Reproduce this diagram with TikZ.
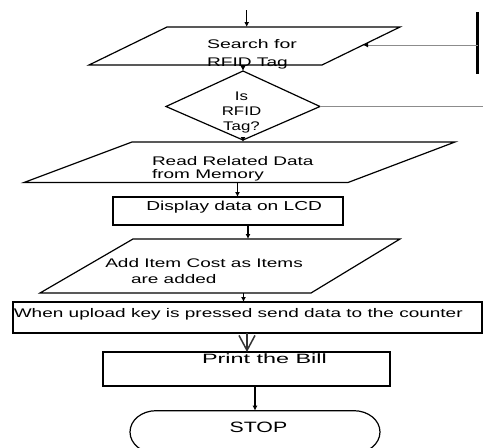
\documentclass[tikz,border=0pt]{standalone}
\usepackage{fontspec}
\setmainfont{Liberation Sans}
\usetikzlibrary{arrows.meta}
\begin{document}
\begin{tikzpicture}[x=1pt,y=-1pt,
  shapeline/.style={draw=black,line width=1.2pt,line join=miter},
  boxline/.style={draw=black,line width=1.7pt},
  flow/.style={draw=black,line width=1.1pt,-{Latex[length=5pt,width=5pt]}},
  vflow/.style={draw=black!80,line width=1.2pt,-{Straight Barb[length=15pt,width=16pt,line width=1.5pt]}},
  grayline/.style={draw=black!45,line width=1pt},
  lbl/.style={inner sep=0pt,anchor=base west,font=\fontsize{12.5}{14}\selectfont,xscale=1.52},
  clbl/.style={inner sep=0pt,anchor=base,font=\fontsize{12.5}{14}\selectfont,xscale=1.35},
]
\useasboundingbox (0,0) rectangle (483,448);
\clip (0,0) rectangle (483,448);

% ---------- coordinates ----------
\coordinate (in) at (246.7,10);
% parallelogram 1
\coordinate (p1tl) at (167,27);  \coordinate (p1tr) at (400,27);
\coordinate (p1br) at (322,65);  \coordinate (p1bl) at (89,65);
\coordinate (p1top) at (246.7,27); \coordinate (p1bot) at (243,65);
\coordinate (p1rt) at (363,45);
% bar at right
\coordinate (bart) at (477.5,12); \coordinate (barb) at (477.5,74);
\coordinate (barm) at (477.5,45);
% diamond
\coordinate (dt) at (243,71);  \coordinate (dr) at (320,106.5);
\coordinate (db) at (243,140); \coordinate (dl) at (166,106.5);
\coordinate (dout) at (483,106.5);
% parallelogram 2
\coordinate (p2tl) at (132,142); \coordinate (p2tr) at (455,142);
\coordinate (p2br) at (348,182.5); \coordinate (p2bl) at (24,182.5);
\coordinate (p2top) at (243,142); \coordinate (p2bot) at (237.5,182.5);
% rectangle display
\coordinate (r1nw) at (113,197); \coordinate (r1se) at (343,225);
\coordinate (r1top) at (237.5,197); \coordinate (r1bot) at (248,225);
% parallelogram 3
\coordinate (p3tl) at (133,239); \coordinate (p3tr) at (400,239);
\coordinate (p3br) at (311,293); \coordinate (p3bl) at (40,293);
\coordinate (p3top) at (248,239); \coordinate (p3bot) at (243.5,293);
% rectangle upload
\coordinate (r2nw) at (13,302); \coordinate (r2se) at (482,333);
\coordinate (r2top) at (243.5,302); \coordinate (r2bot) at (247,333);
% rectangle print
\coordinate (r3nw) at (103.3,352); \coordinate (r3se) at (390,386);
\coordinate (r3top) at (247,352); \coordinate (r3bot) at (255,386);
% stop
\coordinate (stl) at (156,410.7); \coordinate (str) at (354,410.7);
\coordinate (stop) at (255,410.7);

% ---------- shapes ----------
\draw[shapeline] (p1tl) -- (p1tr) -- (p1br) -- (p1bl) -- cycle;
\draw[shapeline] (dt) -- (dr) -- (db) -- (dl) -- cycle;
\draw[shapeline] (p2tl) -- (p2tr) -- (p2br) -- (p2bl) -- cycle;
\draw[boxline] (r1nw) rectangle (r1se);
\draw[shapeline] (p3tl) -- (p3tr) -- (p3br) -- (p3bl) -- cycle;
\draw[boxline] (r2nw) rectangle (r2se);
\draw[boxline] (r3nw) rectangle (r3se);
\draw[shapeline] (stl) -- (str)
   arc[start angle=-90,end angle=90,x radius=26,y radius=21.3]
   -- ++(-198,0)
   arc[start angle=90,end angle=270,x radius=26,y radius=21.3];
\draw[line width=2.2pt] (bart) -- (barb);

% ---------- texts ----------
\node[lbl,xscale=1.026] (t1a) at (206.7,48.3) {Search for};
\node[lbl,xscale=1.007] (t1b) at (206.7,66.5) {RFID Tag};
\node[clbl] (t2a) at (241.5,100) {Is};
\node[clbl] (t2b) at (241.5,115.7) {RFID};
\node[clbl] (t2c) at (241.5,130) {Tag?};
\node[lbl] (t3a) at (151.7,165) {Read Related Data};
\node[lbl] (t3b) at (151.7,178.3) {from Memory};
\node[lbl,font=\fontsize{13}{14}\selectfont,xscale=0.97] (t4) at (146,210.7) {Display data on LCD};
\node[lbl] (t5a) at (105,267.3) {Add Item Cost as Items};
\node[lbl] (t5b) at (130.7,283.3) {are added};
\node[lbl,xscale=1.0] (t6) at (13.5,317) {When upload key is pressed send data to the counter};
\node[lbl,font=\fontsize{13.5}{15}\selectfont,xscale=1.14] (t7) at (201.7,363) {Print the Bill};
\node[lbl,font=\fontsize{15}{16}\selectfont,xscale=0.935] (t8) at (229.3,432.7) {STOP};

% ---------- connectors ----------
\draw[flow] (in) -- (p1top);
\draw[grayline,-{Latex[length=5pt,width=5pt,color=black,fill=black]}] (barm) -- (p1rt);
\draw[flow] (p1bot) -- (dt);
\draw[grayline] (dr) -- (dout);
\draw[flow] (db) -- (p2top);
\draw[flow] (p2bot) -- (r1top);
\draw[flow] (r1bot) -- (p3top);
\draw[flow] (p3bot) -- (r2top);
\draw[vflow] (r2bot) -- (r3top);
\draw[flow] (r3bot) -- (stop);
\end{tikzpicture}
\end{document}
